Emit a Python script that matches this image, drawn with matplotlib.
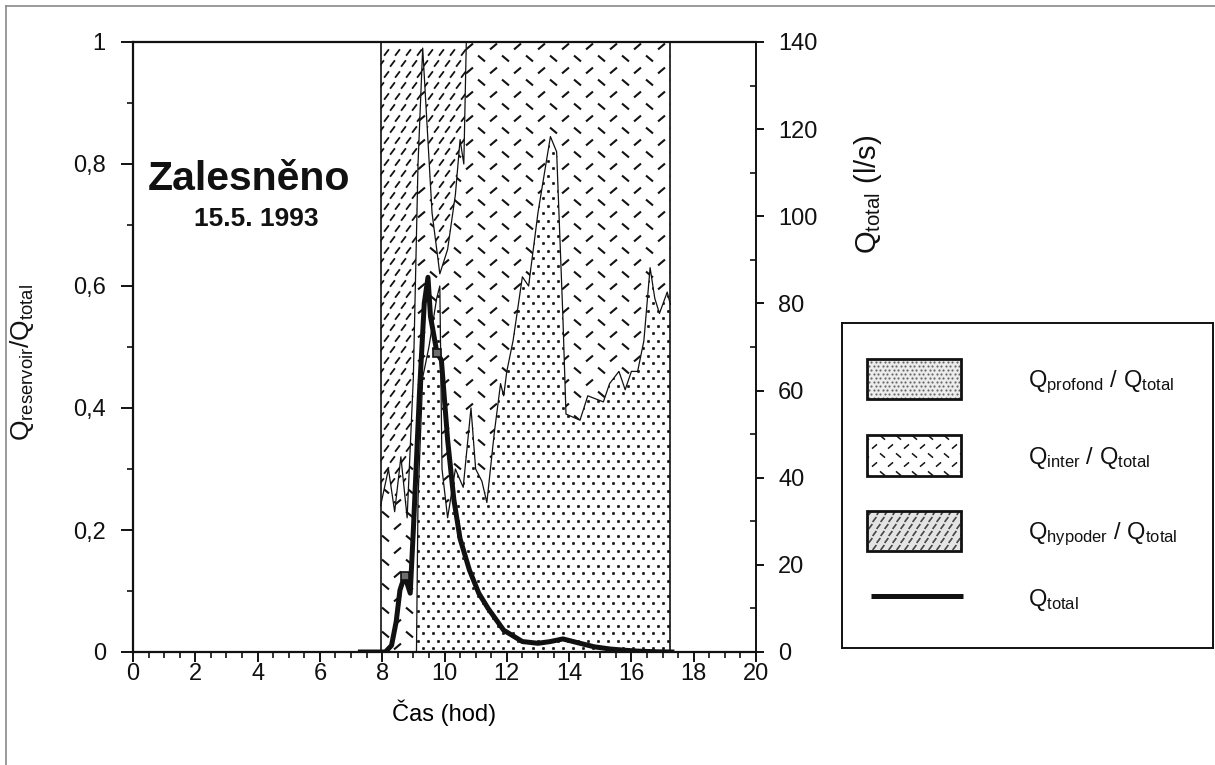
import numpy as np
import matplotlib
matplotlib.use("Agg")
import matplotlib.pyplot as plt
import matplotlib.ticker as mtick
from matplotlib.path import Path
from matplotlib.patches import Polygon, Rectangle
from matplotlib.lines import Line2D

FIG_W, FIG_H, DPI = 12.15, 7.65, 100
INK = "#111111"
FRAME = "#8a8a8a"

# Q_profond / Q_total (top of the dotted layer)
PROF_X = [7.95, 9.1, 9.15, 9.3, 9.5, 9.75, 9.85, 9.92, 10.1, 10.35, 10.6, 10.85, 11.0,
          11.2, 11.36, 11.6, 11.8, 11.9, 12.0, 12.2, 12.5, 12.7, 13.0, 13.4, 13.6, 13.8,
          13.9, 14.35, 14.6, 15.1, 15.3, 15.6, 15.8, 16.0, 16.2, 16.4, 16.6, 16.75, 16.9,
          17.15, 17.25]
PROF_Y = [0.0, 0.0, 0.25, 0.45, 0.5, 0.58, 0.6, 0.3, 0.22, 0.3, 0.27, 0.4, 0.3,
          0.28, 0.245, 0.36, 0.44, 0.42, 0.46, 0.51, 0.615, 0.6, 0.72, 0.845, 0.82, 0.55,
          0.39, 0.38, 0.42, 0.41, 0.44, 0.46, 0.43, 0.46, 0.46, 0.51, 0.63, 0.58, 0.555,
          0.59, 0.57]

# (Q_profond + Q_inter) / Q_total (bottom of the hypoder layer)
INTER_X = [7.95, 8.2, 8.4, 8.6, 8.8, 9.0, 9.15, 9.3, 9.4, 9.6, 9.85, 10.1, 10.35,
           10.5, 10.62, 10.7, 17.25]
INTER_Y = [0.24, 0.30, 0.23, 0.32, 0.22, 0.45, 0.8, 0.99, 0.9, 0.72, 0.62, 0.66, 0.75,
           0.84, 0.8, 1.0, 1.0]

# Q_total (l/s)
Q_X = [7.3, 8.1, 8.3, 8.45, 8.57, 8.72, 8.9, 9.0, 9.2, 9.35, 9.47, 9.55, 9.76, 9.9,
       10.1, 10.3, 10.5, 10.8, 11.1, 11.4, 11.9, 12.5, 13.0, 13.4, 13.8, 14.35, 14.8,
       15.3, 15.8, 16.2, 16.8, 17.3]
Q_Y = [0, 0, 1.5, 7, 14.2, 17.5, 13.5, 28, 60, 80, 86, 77, 68.6, 67,
       48.7, 35, 26, 18.8, 13.5, 10, 5, 2.4, 2.0, 2.4, 3.0, 2.0, 1.2,
       0.7, 0.4, 0.2, 0.05, 0]
Q_MARK_X = [8.72, 9.76]
Q_MARK_Y = [17.5, 68.6]

LEFT_TICKS = [0, 0.2, 0.4, 0.6, 0.8, 1]
LEFT_LABELS = ["0", "0,2", "0,4", "0,6", "0,8", "1"]
RIGHT_TICKS = [0, 20, 40, 60, 80, 100, 120, 140]
X_TICKS = list(range(0, 21, 2))

LEGEND_LABELS = [
    r"Q$_{\mathrm{profond}}$ / Q$_{\mathrm{total}}$",
    r"Q$_{\mathrm{inter}}$ / Q$_{\mathrm{total}}$",
    r"Q$_{\mathrm{hypoder}}$ / Q$_{\mathrm{total}}$",
    r"Q$_{\mathrm{total}}$",
]

SLASH = Path([(-1, -0.85), (1, 0.85)])
BACK = Path([(-1, 0.85), (1, -0.85)])
STEEP = Path([(-0.75, -1), (0.75, 1)])


def texture(ax, clip, dx, dy, marks, size, width, color=INK):
    pos = ax.get_position()
    w = pos.width * FIG_W * DPI
    h = pos.height * FIG_H * DPI
    rows = np.arange(dy / 2, h, dy)
    for k, marker in enumerate(marks):
        xs, ys = [], []
        for r in range(k, len(rows), len(marks)):
            cols = np.arange((r % 2) * dx / 2, w + dx, dx)
            xs.append(cols)
            ys.append(np.full(cols.size, rows[r]))
        (art,) = ax.plot(np.concatenate(xs) / w, np.concatenate(ys) / h, ls="none",
                         marker=marker, ms=size, mew=width, mfc=color, mec=color,
                         transform=ax.transAxes, zorder=2)
        art.set_clip_path(clip)


plt.rcParams.update({
    "font.family": ["Liberation Sans", "DejaVu Sans"],
    "mathtext.fontset": "custom",
    "mathtext.rm": "Liberation Sans",
    "mathtext.it": "Liberation Sans:italic",
    "mathtext.bf": "Liberation Sans:bold",
    "text.color": INK,
    "axes.edgecolor": INK,
    "xtick.color": INK,
    "ytick.color": INK,
})

fig = plt.figure(figsize=(FIG_W, FIG_H), dpi=DPI)
ax = fig.add_axes([133 / 1215, 1 - 652 / 765, 623 / 1215, 610 / 765])
ax.set_xlim(0, 20)
ax.set_ylim(0, 1)

px, py = np.array(PROF_X), np.array(PROF_Y)
ix, iy = np.array(INTER_X), np.array(INTER_Y)

prof_poly = Polygon(np.column_stack([np.r_[px, px[-1], px[0]], np.r_[py, 0, 0]]),
                    facecolor="none", edgecolor="none")
inter_poly = Polygon(np.column_stack([np.r_[px, ix[::-1]], np.r_[py, iy[::-1]]]),
                     facecolor="none", edgecolor="none")
hyp_poly = Polygon(np.column_stack([np.r_[ix, ix[-1], ix[0]], np.r_[iy, 1, 1]]),
                   facecolor="none", edgecolor="none")
for poly in (prof_poly, inter_poly, hyp_poly):
    ax.add_patch(poly)

texture(ax, prof_poly, 10.0, 7.5, ["o"], 1.9, 0.3)
texture(ax, inter_poly, 24, 12, [SLASH, BACK], 5.0, 1.5)
texture(ax, hyp_poly, 11, 11, [STEEP], 4.6, 1.3)

ax.plot(px, py, color=INK, lw=0.9, zorder=3)
ax.plot(ix, iy, color=INK, lw=0.9, zorder=3)
ax.vlines([px[0], px[-1]], 0, 1, color=INK, lw=1.2, zorder=3)

ax.set_xticks(X_TICKS)
ax.xaxis.set_minor_locator(mtick.MultipleLocator(0.5))
ax.set_yticks(LEFT_TICKS)
ax.set_yticklabels(LEFT_LABELS)
ax.yaxis.set_minor_locator(mtick.MultipleLocator(0.1))
ax.tick_params(axis="x", which="major", direction="out", length=7, width=1.4,
               labelsize=17, pad=1)
ax.tick_params(axis="x", which="minor", direction="out", length=4, width=1.2)
ax.tick_params(axis="y", which="major", direction="out", length=8.6, width=1.4,
               labelsize=17, pad=11)
ax.tick_params(axis="y", which="minor", direction="out", length=4, width=1.2)
for side in ("left", "bottom", "top"):
    ax.spines[side].set_linewidth(1.6)
ax.spines["right"].set_visible(False)
ax.set_xlabel("Čas (hod)", fontsize=17, labelpad=10)

ax2 = ax.twinx()
ax2.set_ylim(0, 140)
ax2.set_yticks(RIGHT_TICKS)
ax2.yaxis.set_minor_locator(mtick.MultipleLocator(10))
ax2.tick_params(axis="y", which="major", direction="out", length=6, width=1.4,
                labelsize=17, pad=10)
ax2.tick_params(axis="y", which="minor", direction="in", length=4, width=1.2)
for side in ("left", "bottom", "top"):
    ax2.spines[side].set_visible(False)
ax2.spines["right"].set_linewidth(1.4)
ax2.plot(Q_X, Q_Y, color=INK, lw=3.6, solid_joinstyle="round", zorder=4)
ax2.plot(Q_MARK_X, Q_MARK_Y, ls="none", marker="s", ms=6, mfc="#6e6e6e", mec=INK,
         mew=1.2, zorder=5)

fig.text(22 / 1215, 1 - 362 / 765, r"Q$_{\mathrm{reservoir}}$/Q$_{\mathrm{total}}$",
         rotation=90, ha="center", va="center", fontsize=19)
fig.text(868 / 1215, 1 - 194 / 765, r"Q$_{\mathrm{total}}$ (l/s)",
         rotation=90, ha="center", va="center", fontsize=21)
fig.text(148 / 1215, 1 - 190 / 765, "Zalesněno", fontsize=29.5, fontweight="bold",
         ha="left", va="baseline")
fig.text(256 / 1215, 1 - 226 / 765, "15.5. 1993", fontsize=19, fontweight="bold",
         ha="center", va="baseline")

# legend box, drawn in local pixel units
lax = fig.add_axes([842 / 1215, 1 - 648 / 765, 371 / 1215, 325 / 765])
lax.set_xlim(0, 371)
lax.set_ylim(325, 0)
lax.set_xticks([])
lax.set_yticks([])
for spine in lax.spines.values():
    spine.set_linewidth(1.4)

rects = [
    Rectangle((25, 36), 94, 40, facecolor="#ececec", edgecolor=INK, lw=2.0, zorder=3),
    Rectangle((25, 112), 94, 41, facecolor="white", edgecolor=INK, lw=2.0, zorder=3),
    Rectangle((25, 188), 94, 40, facecolor="#e4e4e4", edgecolor=INK, lw=2.0, zorder=3),
]
for rect in rects:
    lax.add_patch(Rectangle(rect.get_xy(), rect.get_width(), rect.get_height(),
                            facecolor=rect.get_facecolor(), edgecolor="none", zorder=1))
    lax.add_patch(rect)
    rect.set_facecolor("none")
texture(lax, lax.patches[0], 4.5, 4.0, ["o"], 1.3, 0.2, color="#6a6a6a")
texture(lax, lax.patches[2], 16, 9, [SLASH, BACK], 3.6, 1.1)
texture(lax, lax.patches[4], 8, 7, [STEEP], 3.6, 1.2, color="#444444")
lax.plot([29, 121], [273, 273], color=INK, lw=3.6, solid_capstyle="butt")

for y, label in zip([59, 135, 211, 277], LEGEND_LABELS):
    lax.text(186, y, label, fontsize=17, ha="left", va="center")

# outer frame of the scanned figure
fig.add_artist(Line2D([6 / 1215, 6 / 1215], [0, 1 - 6 / 765], transform=fig.transFigure,
                      color=FRAME, lw=1.2))
fig.add_artist(Line2D([6 / 1215, 1], [1 - 6 / 765, 1 - 6 / 765], transform=fig.transFigure,
                      color=FRAME, lw=1.2))

fig.savefig("out.png", dpi=DPI, facecolor="white")
